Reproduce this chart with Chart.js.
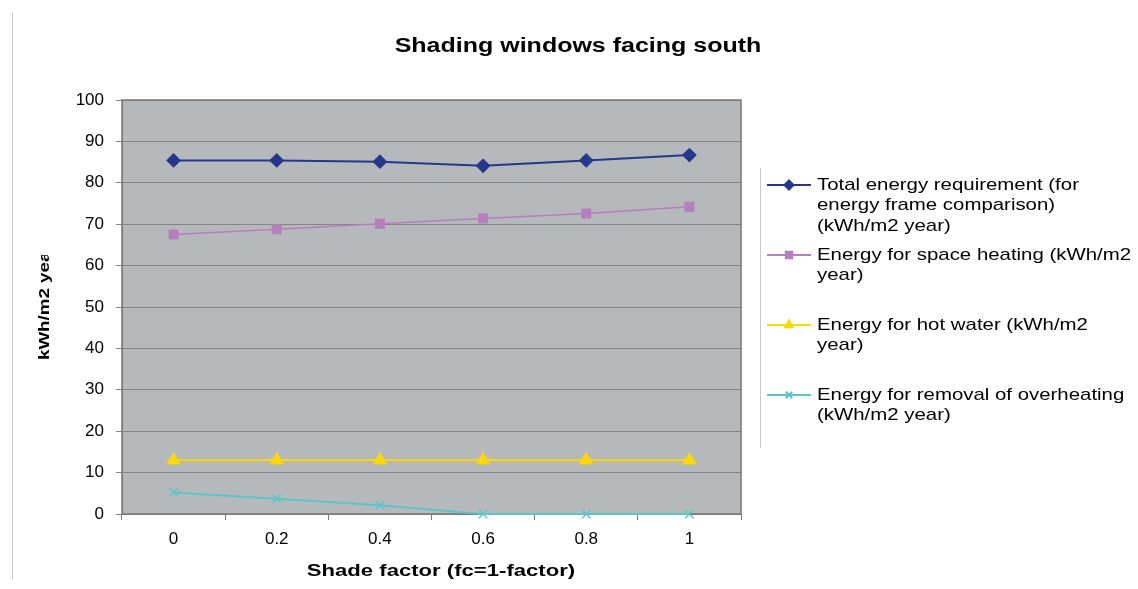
<!DOCTYPE html>
<html>
<head>
<meta charset="utf-8">
<script src="https://cdn.jsdelivr.net/npm/chart.js@4.4.0/dist/chart.umd.min.js"></script>
<style>
  body { margin: 0; background: #fff; }
  canvas { display: block; }
</style>
</head>
<body>
<canvas id="myChart" width="1138" height="589"></canvas>
<script>
// data
var shadeFactors = ['0', '0.2', '0.4', '0.6', '0.8', '1'];
var totalEnergy = [85.4, 85.4, 85.1, 84.1, 85.4, 86.7];
var spaceHeating = [67.5, 68.8, 70.1, 71.4, 72.6, 74.2];
var hotWater = [13.0, 13.0, 13.0, 13.0, 13.0, 13.0];
var overheating = [5.2, 3.7, 2.1, 0.0, 0.0, 0.0];
var yTicks = [0, 10, 20, 30, 40, 50, 60, 70, 80, 90, 100];

var seriesNames = [
  ['Total energy requirement (for', 'energy frame comparison)', '(kWh/m2 year)'],
  ['Energy for space heating (kWh/m2', 'year)'],
  ['Energy for hot water (kWh/m2', 'year)'],
  ['Energy for removal of overheating', '(kWh/m2 year)']
];

var chartTitle = 'Shading windows facing south';
var xTitle = 'Shade factor (fc=1-factor)';
var yTitle = 'kWh/m2 year';

var FONT = "'Liberation Sans', Arial, sans-serif";

// text in the picture is a bit wider than normal Arial
function wideText(ctx, text, x, y, sx, align) {
  ctx.save();
  ctx.translate(x, y);
  ctx.scale(sx, 1);
  ctx.textAlign = align;
  ctx.fillText(text, 0, 0);
  ctx.restore();
}

var excelLook = {
  id: 'excelLook',
  beforeDraw: function (chart) {
    var ctx = chart.ctx, a = chart.chartArea;
    ctx.save();
    ctx.fillStyle = '#b5b9bb';
    ctx.fillRect(a.left, a.top, a.right - a.left, a.bottom - a.top);
    ctx.restore();
  },
  beforeDatasetsDraw: function (chart) {
    // plot frame, under the lines
    var ctx = chart.ctx, a = chart.chartArea;
    ctx.save();
    ctx.strokeStyle = '#7a7a7a';
    ctx.lineWidth = 1.5;
    ctx.strokeRect(a.left, a.top, a.right - a.left, a.bottom - a.top);
    ctx.restore();
  },
  afterDraw: function (chart) {
    var ctx = chart.ctx;
    ctx.save();
    // outer frame pieces
    ctx.strokeStyle = '#c8c8c8';
    ctx.lineWidth = 1;
    ctx.beginPath();
    ctx.moveTo(12.5, 12); ctx.lineTo(12.5, 580);
    ctx.moveTo(760.5, 168); ctx.lineTo(760.5, 448);
    ctx.stroke();

    ctx.fillStyle = '#000';
    ctx.textBaseline = 'middle';

    // title
    ctx.font = 'bold 20px ' + FONT;
    wideText(ctx, chartTitle, 578, 46, 1.25, 'center');

    // x axis title
    ctx.font = 'bold 17px ' + FONT;
    wideText(ctx, xTitle, 441, 571, 1.3, 'center');

    // y axis title, cut off at the top like the original
    ctx.save();
    ctx.beginPath();
    ctx.rect(30, 255, 30, 120);
    ctx.clip();
    ctx.translate(45, 360);
    ctx.rotate(-Math.PI / 2);
    ctx.font = 'bold 15px ' + FONT;
    wideText(ctx, yTitle, 0, 0, 1.25, 'left');
    ctx.restore();

    // legend
    ctx.font = '17px ' + FONT;
    chart.data.datasets.forEach(function (ds, i) {
      var y = 185 + i * 70;
      ctx.strokeStyle = ds.borderColor;
      ctx.lineWidth = 2;
      ctx.beginPath();
      ctx.moveTo(767, y); ctx.lineTo(811, y);
      ctx.stroke();
      ctx.fillStyle = ds.pointBackgroundColor;
      ctx.strokeStyle = ds.pointBorderColor;
      Chart.helpers.drawPoint(ctx, {
        pointStyle: ds.pointStyle, radius: 4.5, rotation: 0, borderWidth: 1.5
      }, 789, y);
      ctx.fillStyle = '#000';
      seriesNames[i].forEach(function (line, j) {
        wideText(ctx, line, 817, y + j * 20.7, 1.2, 'left');
      });
    });
    ctx.restore();
  }
};

var ctx = document.getElementById('myChart').getContext('2d');
var myChart = new Chart(ctx, {
  type: 'line',
  data: {
    labels: shadeFactors,
    datasets: [{
      label: seriesNames[0].join(' '),
      data: totalEnergy,
      borderColor: '#26388c',
      borderWidth: 2,
      pointStyle: 'rectRot',
      pointRadius: 6,
      pointBackgroundColor: '#26388c',
      pointBorderColor: '#26388c'
    }, {
      label: seriesNames[1].join(' '),
      data: spaceHeating,
      borderColor: '#b77fbd',
      borderWidth: 1.5,
      pointStyle: 'rect',
      pointRadius: 6,
      pointBackgroundColor: '#b77fbd',
      pointBorderColor: '#b77fbd'
    }, {
      label: seriesNames[2].join(' '),
      data: hotWater,
      borderColor: '#ffd800',
      borderWidth: 2,
      pointStyle: 'triangle',
      pointRadius: 6.5,
      pointBackgroundColor: '#ffd800',
      pointBorderColor: '#ffd800'
    }, {
      label: seriesNames[3].join(' '),
      data: overheating,
      borderColor: '#5cc6c6',
      borderWidth: 2,
      pointStyle: 'crossRot',
      pointRadius: 6,
      pointBorderWidth: 1.5,
      pointBackgroundColor: '#5cc6c6',
      pointBorderColor: '#5cc6c6'
    }].map(function (ds) { ds.clip = false; return ds; })
  },
  options: {
    responsive: false,
    animation: false,
    layout: { padding: { top: 100, right: 397, left: 0, bottom: 0 } },
    plugins: {
      legend: { display: false },
      title: { display: false },
      tooltip: { enabled: false }
    },
    scales: {
      x: {
        type: 'category',
        offset: true,
        grid: { offset: true, drawOnChartArea: false, tickLength: 6, color: '#7a7a7a' },
        border: { color: '#7a7a7a' },
        ticks: { color: '#000', padding: 9, font: { family: FONT, size: 17 } },
        afterFit: function (s) { s.height = 75; }
      },
      y: {
        min: 0,
        max: 100,
        afterBuildTicks: function (s) {
          s.ticks = yTicks.map(function (v) { return { value: v }; });
        },
        grid: { color: '#858585', tickLength: 6 },
        border: { color: '#7a7a7a' },
        ticks: { color: '#000', padding: 12, font: { family: FONT, size: 17 } },
        afterFit: function (s) { s.width = 122; }
      }
    }
  },
  plugins: [excelLook]
});
</script>
</body>
</html>
